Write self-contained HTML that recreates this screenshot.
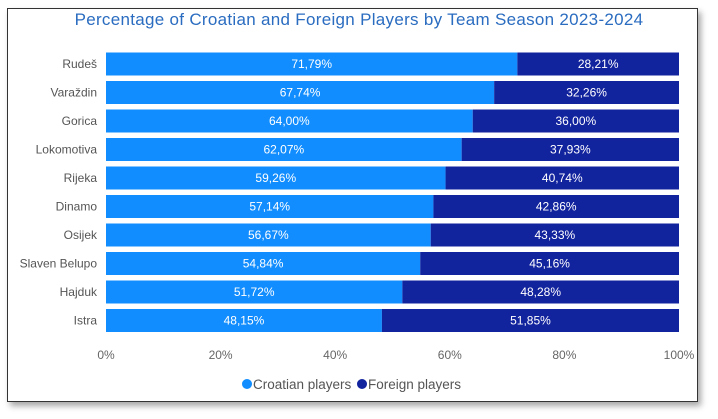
<!DOCTYPE html>
<html><head><meta charset="utf-8"><style>
body{margin:0;background:#fff;width:718px;height:419px;overflow:hidden;font-family:"Segoe UI","Liberation Sans",sans-serif;}
#frame{position:absolute;left:7px;top:8px;width:689px;height:392px;border:1px solid #333;background:#fff;box-shadow:3px 4px 6px rgba(0,0,0,0.35);}
</style></head><body>
<div id="frame"></div>
<svg id="chart" width="718" height="419" style="position:absolute;left:0;top:0">
<text x="359" y="25" text-anchor="middle" font-size="17" letter-spacing="0.3" fill="#2a6cc0" font-family="Liberation Sans, sans-serif">Percentage of Croatian and Foreign Players by Team Season 2023-2024</text>
</svg>
<script>
const teams=["Rudeš","Varaždin","Gorica","Lokomotiva","Rijeka","Dinamo","Osijek","Slaven Belupo","Hajduk","Istra"];
const croatian=[71.79,67.74,64.00,62.07,59.26,57.14,56.67,54.84,51.72,48.15];
const foreign=[28.21,32.26,36.00,37.93,40.74,42.86,43.33,45.16,48.28,51.85];
const ticks=[0,20,40,60,80,100];
const svg=document.getElementById('chart');const NS='http://www.w3.org/2000/svg';
const x0=106,x1=679,yTop=64,step=28.5,bh=23;
const xs=v=>x0+(x1-x0)*v/100;
const ys=i=>yTop+i*step;
const fmt=v=>v.toFixed(2).replace('.',',')+'%';
function mk(t,a){const e=document.createElementNS(NS,t);for(const k in a)e.setAttribute(k,a[k]);svg.appendChild(e);return e;}
teams.forEach((t,i)=>{
 const y=ys(i);
 const l=mk('text',{x:97,y:y+4,'text-anchor':'end','font-size':12,fill:'#555'});l.textContent=t;
 
 
 const c=mk('rect',{x:xs(0),y:y-bh/2,width:xs(croatian[i])-xs(0),height:bh,fill:'#118dff'});
 
 
 const f=mk('rect',{x:xs(croatian[i]),y:y-bh/2,width:xs(croatian[i]+foreign[i])-xs(croatian[i]),height:bh,fill:'#12239e'});
 
 
 const cl=mk('text',{x:(xs(0)+xs(croatian[i]))/2,y:y+4,'text-anchor':'middle','font-size':12,fill:'#fff'});cl.textContent=fmt(croatian[i]);
 
 
 const fl=mk('text',{x:(xs(croatian[i])+xs(croatian[i]+foreign[i]))/2,y:y+4,'text-anchor':'middle','font-size':12,fill:'#fff'});fl.textContent=fmt(foreign[i]);
 
 
});
ticks.forEach(v=>{
 const t=mk('text',{x:xs(v),y:359,'text-anchor':'middle','font-size':12,fill:'#666'});t.textContent=v+'%';
 
 
});
const lg=[['Croatian players','#118dff',247],['Foreign players','#12239e',362]];
lg.forEach(([n,c,x])=>{
 const d=mk('circle',{cx:x,cy:384,r:5,fill:c});
 
 
 const t=mk('text',{x:x+6,y:389,'font-size':13.5,fill:'#555'});t.textContent=n;
 
 
});
</script>
</body></html>
